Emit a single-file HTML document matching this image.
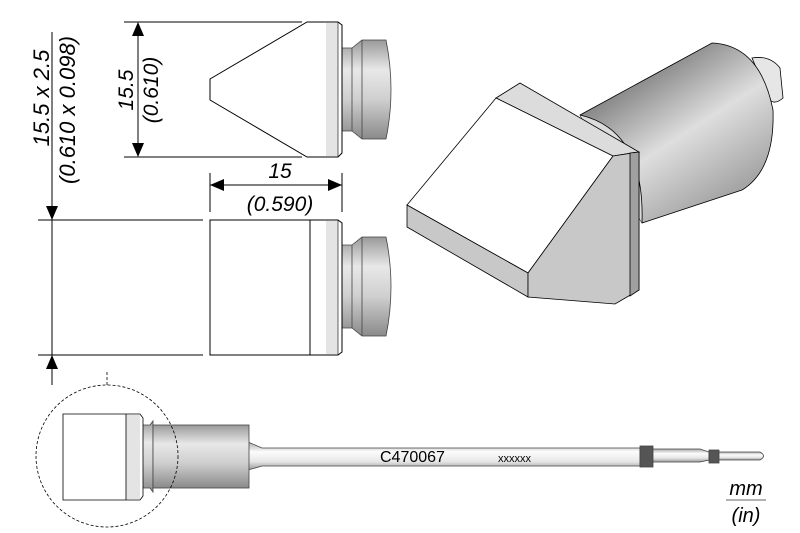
<!DOCTYPE html>
<html><head><style>
html,body{margin:0;padding:0;background:#fff;}
svg{display:block;}
text{font-family:"Liberation Sans",sans-serif;font-style:italic;fill:#000;}
</style></head><body>
<svg width="800" height="533" viewBox="0 0 800 533" xmlns="http://www.w3.org/2000/svg">
<defs>
<linearGradient id="cv" x1="0" y1="0" x2="0" y2="1">
<stop offset="0" stop-color="#9a9a9a"/><stop offset="0.3" stop-color="#e8e8e8"/><stop offset="0.6" stop-color="#cfcfcf"/><stop offset="1" stop-color="#8a8a8a"/>
</linearGradient>
<linearGradient id="sh" x1="0" y1="0" x2="0" y2="1">
<stop offset="0" stop-color="#aaa"/><stop offset="0.35" stop-color="#fcfcfc"/><stop offset="0.7" stop-color="#e6e6e6"/><stop offset="1" stop-color="#999"/>
</linearGradient>
<linearGradient id="cyl" gradientUnits="userSpaceOnUse" x1="630" y1="60" x2="720" y2="200">
<stop offset="0" stop-color="#707070"/><stop offset="0.55" stop-color="#dedede"/><stop offset="1" stop-color="#a5a5a5"/>
</linearGradient>
</defs>

<!-- connectors top & front -->
<g stroke="#444" stroke-width="0.8">
<path d="M342,48 H352 L362,40 H386 Q396,90 386,139 H362 L352,131 H342Z" fill="url(#cv)"/>
<path d="M342,245 H352 L362,237 H386 Q396,287 386,336 H362 L352,328 H342Z" fill="url(#cv)"/>
<line x1="352" y1="48" x2="352" y2="131"/><line x1="362" y1="40" x2="362" y2="139"/>
<line x1="352" y1="245" x2="352" y2="328"/><line x1="362" y1="237" x2="362" y2="336"/>
</g>

<!-- top view -->
<g stroke="#000" stroke-width="1" fill="none">
<line x1="124" y1="22" x2="302" y2="22"/><line x1="124" y1="157" x2="302" y2="157"/>
<path d="M307,22 H338 L342,25 V153 L338,157 H307 L210,100 V79Z" fill="#fff"/>
<rect x="326" y="23" width="12" height="133" fill="#e4e4e4" stroke="none"/>
<line x1="338" y1="22" x2="338" y2="157" stroke-width="0.6"/>
<line x1="138" y1="24" x2="138" y2="155"/>
</g>
<path d="M132,36 L138,22 L144,36Z" fill="#000"/>
<path d="M132,143 L138,157 L144,143Z" fill="#000"/>
<text transform="translate(133,90) rotate(-90)" font-size="21" text-anchor="middle">15.5</text>
<text transform="translate(158,90) rotate(-90)" font-size="21" text-anchor="middle">(0.610)</text>

<!-- front view -->
<g stroke="#000" stroke-width="1" fill="none">
<path d="M210,220 H338 L342,223 V352 L338,355 H210Z" fill="#fff"/>
<rect x="326" y="221" width="12" height="133" fill="#e4e4e4" stroke="none"/>
<line x1="310" y1="220" x2="310" y2="355"/><line x1="338" y1="220" x2="338" y2="355" stroke-width="0.6"/>
<line x1="38" y1="220" x2="203" y2="220"/><line x1="38" y1="355" x2="203" y2="355"/>
<line x1="52" y1="32" x2="52" y2="385"/>
<line x1="210" y1="173" x2="210" y2="212"/><line x1="342" y1="173" x2="342" y2="212"/>
<line x1="210" y1="185" x2="342" y2="185"/>
</g>
<path d="M46,206 L52,220 L58,206Z M46,369 L52,355 L58,369Z M224,179 L210,185 L224,191Z M328,179 L342,185 L328,191Z" fill="#000"/>
<text transform="translate(49,98) rotate(-90)" font-size="22" text-anchor="middle">15.5 x 2.5</text>
<text transform="translate(75,110) rotate(-90)" font-size="22" text-anchor="middle">(0.610 x 0.098)</text>
<text x="280" y="178" font-size="21" text-anchor="middle">15</text>
<text x="280" y="211" font-size="21" text-anchor="middle">(0.590)</text>

<!-- iso view -->
<g stroke="#000" stroke-width="0.8">
<path d="M752,58 Q770,55 780,68 L783,98 Q775,105 770,100Z" fill="#e6e6e6"/>
<path d="M580,115 L712,43 Q760,45 773,110 Q775,170 742,190 L642,223Z" fill="url(#cyl)"/>
<path d="M580,115 Q645,130 642,223" fill="#dcdcdc"/>
<path d="M520,83 L639,152 L613,156 L496,98Z" fill="#dcdcdc"/>
<path d="M496,98 L613,156 L528,273 L407,205Z" fill="#fff"/>
<path d="M407,205 L528,273 L528,297 L407,227Z" fill="#c8c8c8"/>
<path d="M613,156 L639,152 L639,290 L615,304 L528,297 L528,273Z" fill="#c8c8c8"/>
<path d="M630,153 L639,152 L639,290 L630,296Z" fill="#a0a0a0"/>
</g>

<!-- bottom tip -->
<line x1="107" y1="372" x2="107" y2="385" stroke="#000" stroke-dasharray="3 2" stroke-width="0.8"/>
<g stroke="#444" stroke-width="0.8">
<path d="M248,442 L262,448 H640 V466 H262 L248,470Z" fill="url(#sh)"/>
<rect x="640" y="446" width="13" height="21" fill="#555"/>
<path d="M653,449 H700 L709,452 V460 L700,462 H653Z" fill="url(#sh)"/>
<rect x="709" y="450" width="10" height="13" fill="#555"/>
<path d="M719,452 H760 Q767,456 760,460 H719Z" fill="url(#sh)"/>
<path d="M141,425 H150 L153,421 V492 L150,488 H141Z" fill="url(#cv)"/>
<rect x="153" y="425" width="96" height="63" fill="url(#cv)"/>
<path d="M63,414 H140 L143,418 V496 L140,500 H63Z" fill="#fff" stroke="#000"/>
<rect x="126" y="415" width="14" height="84" fill="#e4e4e4" stroke="none"/>
<line x1="126" y1="414" x2="126" y2="500" stroke="#000"/>
</g>
<ellipse cx="107" cy="456" rx="71" ry="71" fill="none" stroke="#000" stroke-dasharray="3 2" stroke-width="0.8"/>
<text x="380" y="462" font-size="16" style="font-style:normal">C470067</text>
<text x="498" y="462" font-size="11" style="font-style:normal">xxxxxx</text>
<text x="746" y="495" font-size="20" text-anchor="middle">mm</text>
<line x1="726" y1="500" x2="766" y2="500" stroke="#666" stroke-width="1"/>
<text x="746" y="522" font-size="20" text-anchor="middle">(in)</text>
</svg>
</body></html>
